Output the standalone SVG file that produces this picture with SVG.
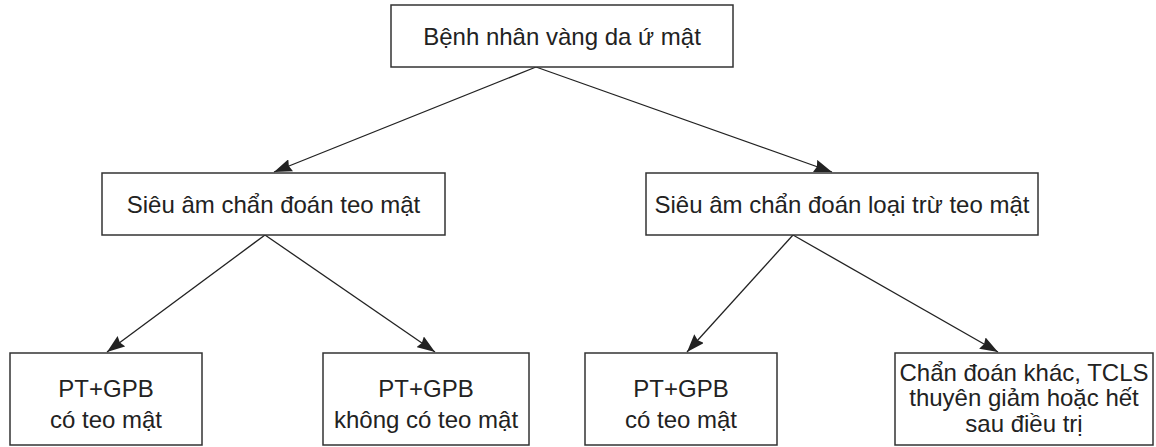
<svg xmlns="http://www.w3.org/2000/svg" width="1156" height="447" viewBox="0 0 1156 447">
<style>
.box{fill:#fff;stroke:#333;stroke-width:1.5}
.t{font-family:"Liberation Sans",Arial,sans-serif;font-size:24px;fill:#222;text-anchor:middle}
.c{stroke:#222;stroke-width:1.3;fill:none;marker-end:url(#ah)}
</style>
<defs>
<marker id="ah" markerUnits="userSpaceOnUse" viewBox="0 0 18 13" refX="18" refY="6.5" markerWidth="18" markerHeight="13" orient="auto">
<path d="M0,0 L18,6.5 L0,13 L2,6.5 z" fill="#222"/>
</marker>
</defs>
<rect width="1156" height="447" fill="#fff"/>
<g id="connectors">
<line class="c" x1="536" y1="67" x2="274" y2="172"/>
<line class="c" x1="536" y1="67" x2="832" y2="172"/>
<line class="c" x1="265" y1="235" x2="107" y2="352"/>
<line class="c" x1="265" y1="235" x2="435" y2="352"/>
<line class="c" x1="793" y1="235" x2="687" y2="352"/>
<line class="c" x1="793" y1="235" x2="998" y2="352"/>
</g>
<g id="n-root">
<rect class="box" x="391" y="5" width="342" height="62"/>
<text class="t" x="562" y="45">Bệnh nhân vàng da ứ mật</text>
</g>
<g id="n-sieuam-teo">
<rect class="box" x="102" y="173" width="343" height="62"/>
<text class="t" x="273.5" y="213">Siêu âm chẩn đoán teo mật</text>
</g>
<g id="n-sieuam-loaitru">
<rect class="box" x="646" y="173" width="392" height="62"/>
<text class="t" x="842" y="213">Siêu âm chẩn đoán loại trừ teo mật</text>
</g>
<g id="n-pt1">
<rect class="box" x="10" y="353" width="192" height="92"/>
<text class="t" x="106" y="397">PT+GPB</text>
<text class="t" x="106" y="428">có teo mật</text>
</g>
<g id="n-pt2">
<rect class="box" x="323" y="353" width="206" height="92"/>
<text class="t" x="426" y="397">PT+GPB</text>
<text class="t" x="426" y="428">không có teo mật</text>
</g>
<g id="n-pt3">
<rect class="box" x="585" y="353" width="192" height="92"/>
<text class="t" x="681" y="397">PT+GPB</text>
<text class="t" x="681" y="428">có teo mật</text>
</g>
<g id="n-khac">
<rect class="box" x="895" y="353" width="258" height="92"/>
<text class="t" x="1024" y="381">Chẩn đoán khác, TCLS</text>
<text class="t" x="1024" y="406">thuyên giảm hoặc hết</text>
<text class="t" x="1024" y="432">sau điều trị</text>
</g>
</svg>
